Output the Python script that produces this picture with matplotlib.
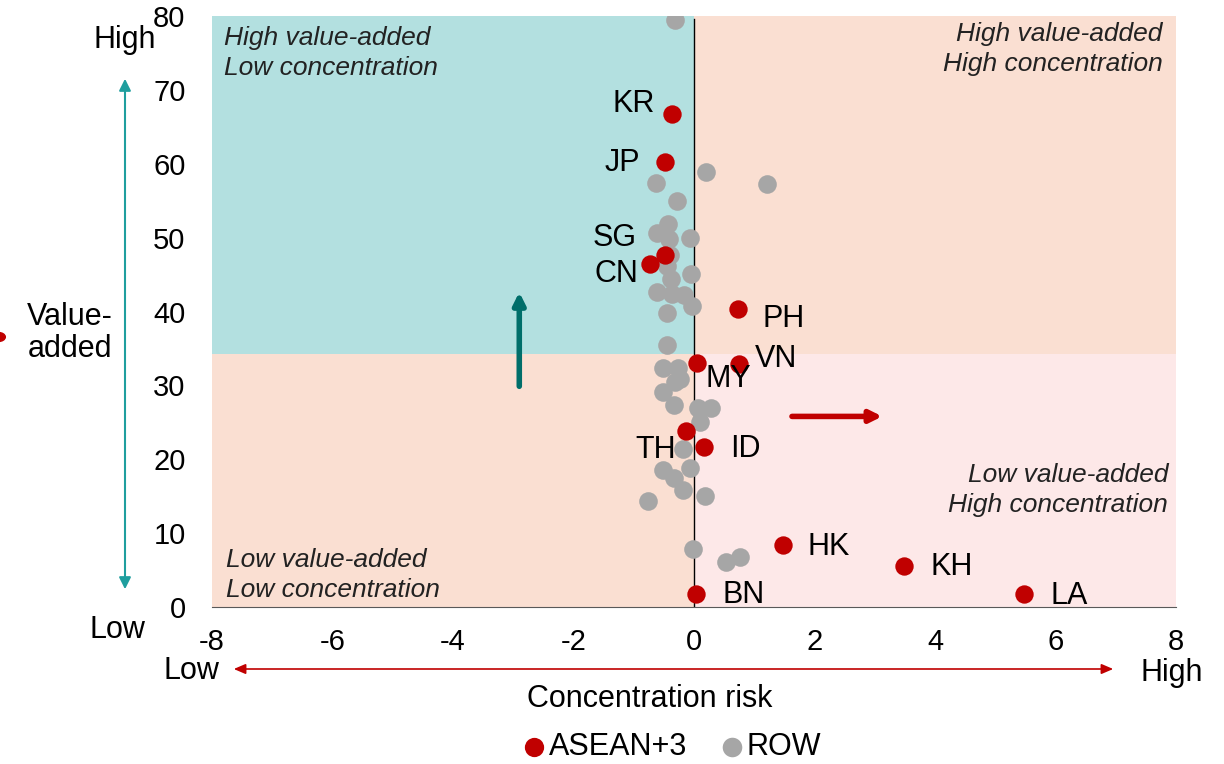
import numpy as np
import matplotlib.pyplot as plt

plt.rcParams['font.family'] = ['Liberation Sans', 'DejaVu Sans']
plt.rcParams['axes.unicode_minus'] = False

# ASEAN+3 economies
asean_codes = ['KR', 'JP', 'SG', 'CN', 'PH', 'VN', 'MY', 'TH', 'ID', 'BN', 'HK', 'KH', 'LA']
asean_x = np.array([-0.37, -0.48, -0.48, -0.73, 0.73, 0.75, 0.05, -0.13, 0.17, 0.04, 1.47, 3.49, 5.48])
asean_y = np.array([66.7, 60.2, 47.7, 46.5, 40.4, 32.9, 33.0, 23.8, 21.7, 1.8, 8.4, 5.5, 1.7])

# rest of the world
row_x = np.array([-0.31, 0.20, 1.21, -0.63, -0.28, -0.43, -0.61, -0.41, -0.07, -0.40,
                  -0.05, -0.45, -0.39, -0.62, -0.37, -0.17, -0.04, -0.45, -0.44, -0.51,
                  -0.26, -0.23, -0.31, -0.51, -0.33, 0.07, 0.28, 0.10, -0.19, -0.07,
                  -0.51, -0.34, -0.18, 0.18, -0.76, -0.02, 0.53, 0.76])
row_y = np.array([79.4, 58.9, 57.2, 57.4, 55.0, 51.8, 50.6, 49.8, 49.9, 47.6,
                  45.1, 46.2, 44.4, 42.6, 42.4, 42.2, 40.7, 39.8, 35.5, 32.3,
                  32.4, 30.8, 30.4, 29.1, 27.3, 26.9, 26.9, 25.0, 21.4, 18.8,
                  18.5, 17.5, 15.8, 15.0, 14.3, 7.8, 6.1, 6.8])

y_split = 34.2
x_ticks = np.arange(-8, 9, 2)
y_ticks = np.arange(0, 81, 10)

# label offsets in pixels (dx, dy, ha)
label_offsets = {
    'KR': (-17, 10, 'right'), 'JP': (-25, -1, 'right'), 'SG': (-28, 17, 'right'),
    'CN': (-12, -10, 'right'), 'PH': (25, -10, 'left'), 'VN': (16, 5, 'left'),
    'MY': (8, -16, 'left'), 'TH': (-10, -19, 'right'), 'ID': (26, -2, 'left'),
    'BN': (26, -1, 'left'), 'HK': (25, -2, 'left'), 'KH': (26, -1, 'left'),
    'LA': (26, -2, 'left'),
}

teal_bg = '#b3e0e0'
peach_bg = '#fadfd2'
pink_bg = '#fde8e8'
red = '#c00000'
grey = '#a6a6a6'
fs = 22

fig = plt.figure(figsize=(12.24, 7.64), dpi=100)
ax = fig.add_axes([0.1732, 0.2055, 0.7876, 0.7735])

ax.set_xlim(-8, 8)
ax.set_ylim(0, 80)

# quadrant backgrounds
ax.fill_between([-8, 0], y_split, 80, color=teal_bg, lw=0, zorder=0)
ax.fill_between([0, 8], y_split, 80, color=peach_bg, lw=0, zorder=0)
ax.fill_between([-8, 0], 0, y_split, color=peach_bg, lw=0, zorder=0)
ax.fill_between([0, 8], 0, y_split, color=pink_bg, lw=0, zorder=0)
ax.axvline(0, ymax=0.995, color='black', lw=1, zorder=1)

ax.scatter(row_x, row_y, s=180, color=grey, lw=0, zorder=2, label='ROW')
ax.scatter(asean_x, asean_y, s=175, color=red, lw=0, zorder=3, label='ASEAN+3')

for code, x, y in zip(asean_codes, asean_x, asean_y):
    dx, dy, ha = label_offsets[code]
    ax.annotate(code, (x, y), xytext=(dx, dy), textcoords='offset pixels',
                ha=ha, va='center', fontsize=fs, zorder=4)

# quadrant captions
qstyle = dict(fontsize=19, style='italic', color='#222222', linespacing=1.32, va='center')
ax.text(-7.8, 75.0, 'High value-added\nLow concentration', ha='left', **qstyle)
ax.text(7.78, 75.5, 'High value-added\nHigh concentration', ha='right', **qstyle)
ax.text(7.87, 15.8, 'Low value-added\nHigh concentration', ha='right', **qstyle)
ax.text(-7.77, 4.35, 'Low value-added\nLow concentration', ha='left', **qstyle)

# direction arrows inside the plot
ax.annotate('', xy=(-2.9, 43.0), xytext=(-2.9, 29.5),
            arrowprops=dict(arrowstyle='-|>,head_width=0.35,head_length=0.7',
                            color='#006e6a', lw=4))
ax.annotate('', xy=(3.17, 25.8), xytext=(1.58, 25.8),
            arrowprops=dict(arrowstyle='-|>,head_width=0.35,head_length=0.7',
                            color=red, lw=4))

for side in ['top', 'right', 'left']:
    ax.spines[side].set_visible(False)
ax.spines['bottom'].set_color('#595959')
ax.set_xticks(x_ticks)
ax.set_yticks(y_ticks)
ax.tick_params(length=0, labelsize=21)
ax.tick_params(axis='x', pad=15)
ax.tick_params(axis='y', pad=19)

# axis annotations in figure coords
fig.text(125 / 1224, 1 - 40 / 764, 'High', ha='center', va='center', fontsize=fs)
fig.text(117 / 1224, 1 - 630 / 764, 'Low', ha='center', va='center', fontsize=fs)
fig.text(70 / 1224, 1 - 333 / 764, 'Value-\nadded', ha='center', va='center',
         fontsize=fs, linespacing=1.05)
fig.text(191 / 1224, 1 - 671 / 764, 'Low', ha='center', va='center', fontsize=fs)
fig.text(1172 / 1224, 1 - 673 / 764, 'High', ha='center', va='center', fontsize=fs)
fig.text(650 / 1224, 1 - 699 / 764, 'Concentration risk', ha='center', va='center', fontsize=fs)

ax.annotate('', xy=(125 / 1224, 1 - 76 / 764), xytext=(125 / 1224, 1 - 592 / 764),
            xycoords='figure fraction',
            arrowprops=dict(arrowstyle='<|-|>,head_width=0.35,head_length=0.7',
                            color='#1f9e9e', lw=1.5))
ax.annotate('', xy=(1116 / 1224, 1 - 669 / 764), xytext=(231 / 1224, 1 - 669 / 764),
            xycoords='figure fraction',
            arrowprops=dict(arrowstyle='<|-|>,head_width=0.3,head_length=0.7',
                            color=red, lw=1.2))

# stray red marker at the left edge
fig.patches.append(plt.Circle((-2 / 1224, 1 - 337 / 764), 0.006,
                              transform=fig.transFigure, color=red, clip_on=False))

handles, labels = ax.get_legend_handles_labels()
fig.legend(handles[::-1], labels[::-1], loc='center', bbox_to_anchor=(0.541, 0.022),
           ncol=2, frameon=False, fontsize=fs, markerscale=1.05, handletextpad=-0.5,
           columnspacing=0.45, borderpad=0)

fig.savefig('out.png', dpi=100)
